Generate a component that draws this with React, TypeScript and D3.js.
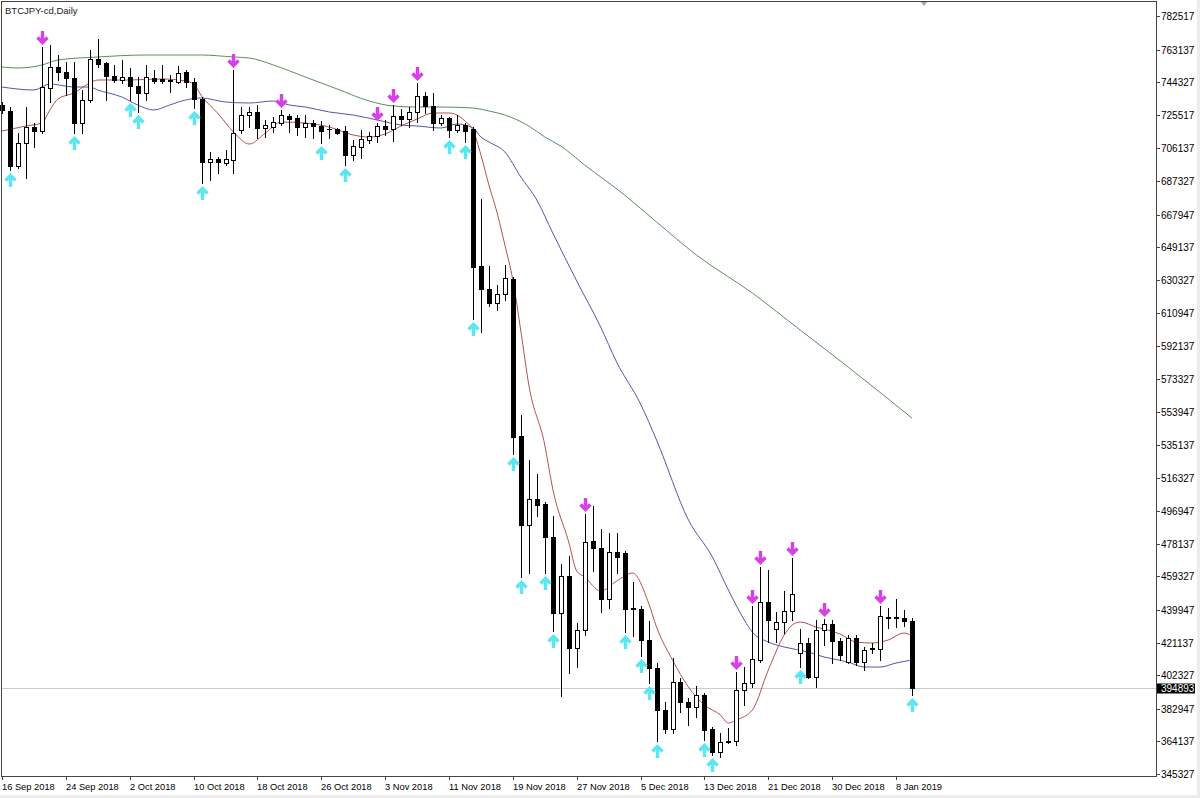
import React from "react";
import * as d3 from "d3";

const chartTitle = "BTCJPY-cd,Daily";

// daily bars, [open, high, low, close]
const candles: [number, number, number, number][] = [
  [731180, 732910, 726570, 728300],
  [727720, 730030, 693690, 696000],
  [696000, 715030, 694840, 709260],
  [709260, 730030, 689080, 718490],
  [718490, 720800, 706960, 716190],
  [716190, 764640, 715030, 741560],
  [740990, 765790, 732910, 753100],
  [753100, 760020, 745600, 750220],
  [750220, 755980, 736950, 746760],
  [746760, 755980, 715030, 720800],
  [720800, 739830, 715030, 734070],
  [734070, 762910, 732910, 757720],
  [757720, 769250, 753100, 754830],
  [755410, 755980, 734070, 747910],
  [747910, 754250, 744450, 745600],
  [745600, 757140, 743870, 747330],
  [747330, 752520, 734070, 742140],
  [742140, 747330, 727140, 738100],
  [738100, 754250, 734070, 747330],
  [746760, 751370, 743870, 745030],
  [746180, 754250, 743870, 745030],
  [745600, 748490, 738680, 745030],
  [744450, 753680, 743870, 749640],
  [750220, 751370, 741560, 744450],
  [744450, 746760, 729450, 734640],
  [734640, 735800, 686190, 698300],
  [698300, 704070, 687920, 700040],
  [700040, 701190, 691960, 698300],
  [697730, 705230, 696570, 700040],
  [699460, 751370, 691960, 715030],
  [716760, 730030, 715030, 725410],
  [725410, 730030, 718490, 727140],
  [727140, 731180, 712150, 717920],
  [717920, 722530, 712720, 719650],
  [718490, 724260, 715610, 721380],
  [720800, 728300, 719650, 725410],
  [724840, 725990, 715610, 723110],
  [723680, 725410, 713880, 718490],
  [718490, 725410, 712720, 720800],
  [720800, 722530, 712150, 719070],
  [719070, 721950, 709260, 716190],
  [717340, 719650, 712150, 717100],
  [717340, 717920, 714460, 715030],
  [716190, 719070, 696570, 702340],
  [702340, 710990, 699460, 707530],
  [706960, 716760, 700610, 711570],
  [710990, 715610, 709260, 713300],
  [713300, 720800, 709840, 719070],
  [719070, 722530, 713880, 717340],
  [717340, 731180, 710420, 724840],
  [724840, 728880, 719650, 723110],
  [723110, 730030, 718490, 727140],
  [727140, 743870, 721380, 736370],
  [736370, 738680, 726570, 730610],
  [730610, 738100, 716760, 720800],
  [720800, 725410, 719650, 723680],
  [723680, 724260, 712720, 716760],
  [716760, 725410, 715610, 719650],
  [719650, 720800, 709840, 716190],
  [717340, 718490, 607750, 637740],
  [638320, 676960, 600250, 625050],
  [625050, 638320, 615250, 616980],
  [616980, 627360, 612940, 622170],
  [622170, 638890, 618710, 631400],
  [630820, 631970, 529880, 539680],
  [540260, 552370, 458930, 488930],
  [488930, 526420, 461240, 503920],
  [503920, 518340, 494120, 500460],
  [501040, 502190, 461240, 482000],
  [482000, 494120, 427790, 438170],
  [438170, 466430, 390290, 459510],
  [459510, 471050, 403560, 417980],
  [417980, 432400, 407020, 428360],
  [428360, 495270, 425480, 479120],
  [479700, 499890, 462390, 475660],
  [475660, 486620, 438740, 446240],
  [446240, 484310, 441050, 473350],
  [473350, 484310, 461240, 470470],
  [472780, 473930, 427210, 440480],
  [441050, 456050, 424900, 440480],
  [440480, 442210, 413370, 422590],
  [422590, 433550, 397790, 406440],
  [406440, 409330, 364340, 382220],
  [382220, 386830, 368950, 371260],
  [371260, 412210, 368950, 398370],
  [398370, 400680, 381060, 386830],
  [386830, 389140, 373570, 383950],
  [383950, 396060, 378180, 390870],
  [390870, 392020, 364910, 370680],
  [371260, 372410, 356260, 357990],
  [357990, 368950, 355110, 363760],
  [363760, 371840, 363180, 364340],
  [364340, 404140, 362030, 393750],
  [393750, 407020, 385100, 397790],
  [397790, 442210, 395480, 411640],
  [411060, 464700, 409900, 444510],
  [444510, 462970, 421440, 434130],
  [428940, 438740, 421440, 432980],
  [432980, 450860, 426630, 439320],
  [439320, 469890, 434130, 449130],
  [415100, 428940, 407020, 420860],
  [420860, 423750, 400680, 401250],
  [401250, 434130, 395480, 428360],
  [428360, 434710, 419710, 431820],
  [431820, 434130, 409330, 422020],
  [422020, 423750, 411060, 413940],
  [409900, 425480, 409330, 423750],
  [423750, 425480, 408170, 409900],
  [409900, 418560, 405290, 416830],
  [417980, 420860, 415100, 417400],
  [417400, 442210, 411060, 436440],
  [435860, 441050, 429520, 435280],
  [435860, 446240, 430090, 435570],
  [435280, 439900, 430670, 433550],
  [433550, 435280, 390870, 394893],
];

// moving averages, [bar, value]
const maFast: [number, number][] = [
  [0, 716190], [3, 719070], [5, 720800], [6, 728300], [7, 734640], [9, 738100],
  [11, 743870], [12, 745600], [16, 745600], [20, 746180], [23, 745030], [24, 743290],
  [25, 736370], [27, 726570], [29, 715610], [31, 708690], [33, 715030], [35, 721380],
  [38, 720800], [41, 718490], [44, 713880], [46, 712720], [48, 714460], [50, 719070],
  [52, 723110], [54, 726570], [56, 726570], [57, 725410], [58, 721950], [59, 716760],
  [60, 702340], [61, 685040], [62, 669460], [63, 650430], [64, 630240], [65, 600830],
  [66, 569680], [68, 535070], [69, 509690], [71, 479120], [72, 462390], [73, 458930],
  [75, 450860], [77, 456630], [79, 461240], [81, 443940], [82, 430090], [84, 411060],
  [86, 395480], [88, 385100], [90, 379330], [91, 374720], [92, 376450], [94, 382220],
  [96, 405290], [98, 425480], [99, 431250], [100, 432980], [102, 430090], [105, 426060],
  [107, 421440], [109, 420860], [111, 422590], [113, 426630], [114, 424900],
];

const maMid: [number, number][] = [
  [0, 741560], [4, 739830], [6, 743290], [9, 741560], [11, 741560], [12, 739830],
  [15, 735800], [17, 731180], [19, 728300], [21, 731180], [23, 734070], [25, 735220],
  [28, 732910], [31, 732340], [34, 733490], [36, 731180], [38, 730030], [41, 727140],
  [44, 725410], [47, 722530], [50, 719650], [52, 719070], [55, 717920], [57, 720220],
  [59, 717920], [60, 712720], [61, 709840], [63, 704070], [65, 689650], [67, 676390],
  [69, 657350], [72, 629670], [75, 603130], [77, 582940], [80, 558720], [82, 537950],
  [86, 491810], [89, 470470], [91, 451430], [93, 434130], [94, 427210], [96, 421440],
  [98, 418560], [101, 415670], [103, 412790], [106, 409900], [108, 407020], [110, 407020],
  [112, 409330], [114, 411060],
];

const maSlow: [number, number][] = [
  [0, 753100], [2, 752520], [5, 754250], [7, 757140], [12, 758870], [18, 760020],
  [25, 760020], [29, 758870], [31, 758290], [34, 754250], [38, 747330], [42, 740410],
  [46, 733490], [49, 730610], [52, 730030], [55, 730030], [59, 729450], [61, 727720],
  [63, 725410], [66, 719070], [68, 712720], [70, 707530], [73, 696570], [78, 679270],
  [82, 663700], [87, 644660], [94, 622740], [100, 601400], [106, 580060], [114, 550640],
];

// bars carrying a fractal arrow
const upperFractals = [5, 29, 35, 47, 49, 52, 73, 92, 94, 95, 99, 103, 110];
const lowerFractals = [
  1, 9, 16, 17, 24, 25, 40, 43, 56, 58, 59, 64, 65, 68, 69, 78, 80, 81, 82, 88, 89, 100, 114,
];

const priceTicks = [
  782517, 763137, 744327, 725517, 706137, 687327, 667947, 649137, 630327, 610947,
  592137, 573327, 553947, 535137, 516327, 496947, 478137, 459327, 439947, 421137,
  402327, 382947, 364137, 345327,
];

const dateLabels = [
  "16 Sep 2018", "24 Sep 2018", "2 Oct 2018", "10 Oct 2018", "18 Oct 2018",
  "26 Oct 2018", "3 Nov 2018", "11 Nov 2018", "19 Nov 2018", "27 Nov 2018",
  "5 Dec 2018", "13 Dec 2018", "21 Dec 2018", "30 Dec 2018", "8 Jan 2019",
];
const barsPerLabel = 8;
const bidPrice = 394893;

const width = 1200;
const height = 798;
const frame = { left: 1, top: 1, right: 1156, bottom: 776 };
const font = "'Liberation Sans', Arial, sans-serif";

export default function App() {
  const x = d3.scaleLinear().domain([0, 112]).range([2, 896]);
  const y = d3.scaleLinear().domain([345327, 782517]).range([774, 16]);
  const px = (i: number) => Math.round(x(i));
  const py = (v: number) => Math.round(y(v));

  const line = d3
    .line<[number, number]>()
    .x(([b]) => x(b))
    .y(([, v]) => y(v))
    .curve(d3.curveMonotoneX);

  const bidY = py(bidPrice) + 0.5;

  return (
    <svg
      width={width}
      height={height}
      viewBox={`0 0 ${width} ${height}`}
      style={{ position: "fixed", left: 0, top: 0, display: "block", background: "#fff" }}
      fontFamily={font}
    >
      <rect x={0} y={0} width={width} height={height} fill="#fff" />
      <rect x={1197} y={0} width={3} height={height} fill="#ececec" />
      <rect x={0} y={795} width={width} height={3} fill="#ececec" />

      <text x={5} y={13.5} fontSize={9.5} fill="#222">
        {chartTitle}
      </text>

      {/* chart shift marker */}
      <path d={`M${px(115.5) - 4},1L${px(115.5) + 4},1L${px(115.5)},6Z`} fill="#a8a8a8" />

      {/* bid line */}
      <line x1={frame.left} x2={frame.right} y1={bidY} y2={bidY} stroke="#cacaca" />

      <g fill="none" strokeWidth={1}>
        <path d={line(maSlow) ?? ""} stroke="#5e8c5e" />
        <path d={line(maMid) ?? ""} stroke="#5656a6" />
        <path d={line(maFast) ?? ""} stroke="#b85050" />
      </g>

      <g>
        {candles.map(([o, h, l, c], i) => {
          const cx = px(i);
          const yo = py(o);
          const yc = py(c);
          const top = Math.min(yo, yc);
          const bot = Math.max(yo, yc);
          let body: React.ReactNode;
          if (bot - top < 1) {
            body = (
              <line x1={cx - 2} x2={cx + 3} y1={top + 0.5} y2={top + 0.5} stroke="#000" />
            );
          } else if (c > o) {
            body = (
              <rect
                x={cx - 1.5}
                y={top + 0.5}
                width={4}
                height={bot - top}
                fill="#fff"
                stroke="#000"
              />
            );
          } else {
            body = <rect x={cx - 2} y={top} width={5} height={bot - top + 1} fill="#000" />;
          }
          return (
            <g key={i}>
              <line
                x1={cx + 0.5}
                x2={cx + 0.5}
                y1={py(h)}
                y2={py(l) + 1}
                stroke="#000"
              />
              {body}
            </g>
          );
        })}
      </g>

      {/* fractal arrows */}
      <g fill="none" strokeWidth={3.4} strokeLinecap="butt" strokeLinejoin="miter">
        {upperFractals.map((b) => {
          const cx = px(b) + 0.5;
          const tip = py(candles[b][1]) - 3;
          return (
            <path
              key={`u${b}`}
              d={`M${cx},${tip - 13}V${tip - 2}M${cx - 5},${tip - 6.5}L${cx},${tip - 1.5}L${cx + 5},${tip - 6.5}`}
              stroke="#d640e6"
            />
          );
        })}
        {lowerFractals.map((b) => {
          const cx = px(b) + 0.5;
          const tip = py(candles[b][2]) + 4;
          return (
            <path
              key={`d${b}`}
              d={`M${cx},${tip + 13}V${tip + 2}M${cx - 5},${tip + 6.5}L${cx},${tip + 1.5}L${cx + 5},${tip + 6.5}`}
              stroke="#5ce6f0"
            />
          );
        })}
      </g>

      {/* frame */}
      <rect
        x={frame.left + 0.5}
        y={frame.top + 0.5}
        width={frame.right - frame.left}
        height={frame.bottom - frame.top}
        fill="none"
        stroke="#444"
      />

      {/* price axis */}
      <g fontSize={10} fill="#000">
        {priceTicks.map((v) => {
          const ty = py(v) + 0.5;
          return (
            <g key={v}>
              <line x1={frame.right + 0.5} x2={frame.right + 4} y1={ty} y2={ty} stroke="#444" />
              <text x={1161} y={ty + 3.5}>
                {v}
              </text>
            </g>
          );
        })}
        <rect x={1157} y={bidY - 5} width={38} height={10} fill="#000" />
        <text x={1161} y={bidY + 3.5} fill="#fff">
          {bidPrice}
        </text>
      </g>

      {/* time axis */}
      <g fontSize={9.3} fill="#000">
        {dateLabels.map((d, k) => {
          const tx = px(k * barsPerLabel) + 0.5;
          return (
            <g key={d}>
              <line x1={tx} x2={tx} y1={frame.bottom + 0.5} y2={frame.bottom + 4} stroke="#444" />
              <text x={tx - 0.5} y={790}>
                {d}
              </text>
            </g>
          );
        })}
      </g>
    </svg>
  );
}
